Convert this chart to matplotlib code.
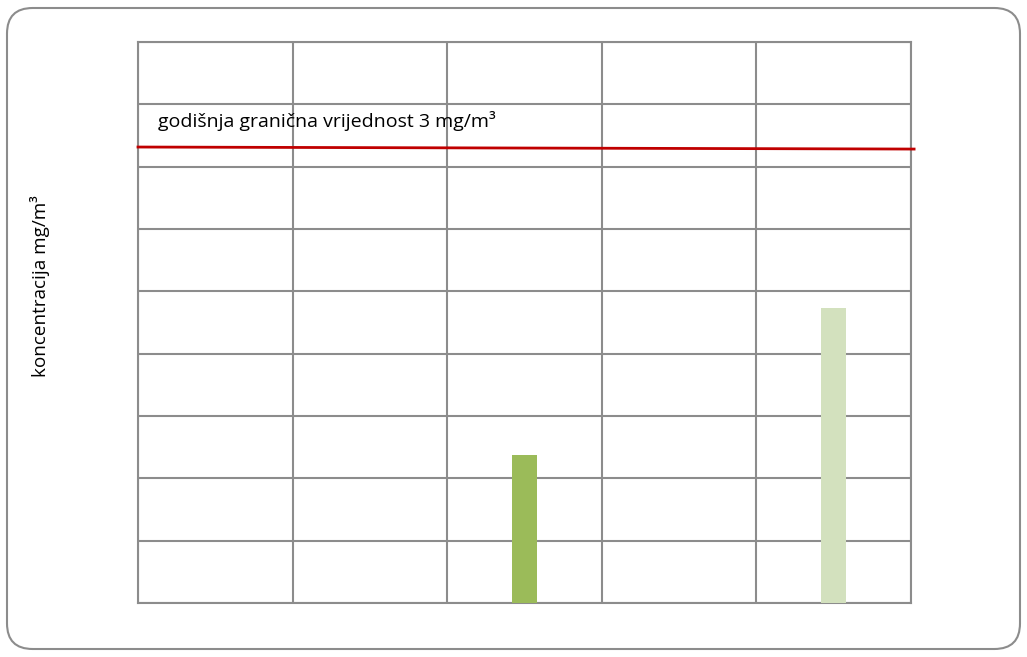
import numpy as np
import matplotlib
matplotlib.use('Agg')
from matplotlib import pyplot as plt
from matplotlib.patches import FancyBboxPatch

# Data (5 unlabeled categories)
categories = ['', '', '', '', '']
values = [0.0, 0.0, 0.95, 0.0, 1.89]
bar_colors = ['#9BBB59', '#9BBB59', '#9BBB59', '#D3E1BE', '#D3E1BE']
limit_y = [2.926, 2.913]   # red "limit" line, slightly sloping in the original
limit_label = 'godišnja granična vrijednost 3 mg/m³'
ylabel = 'koncentracija mg/m³'

W, H = 1027, 657
fig = plt.figure(figsize=(W / 100, H / 100), dpi=100, facecolor='white')

# rounded outer frame
frame = FancyBboxPatch((7 / W, 8 / H), 1013 / W, 641 / H,
                       boxstyle='round,pad=0,rounding_size=0.025',
                       transform=fig.transFigure, facecolor='none',
                       edgecolor='#8C8C8C', linewidth=1.5, mutation_aspect=W / H,
                       zorder=-1)
fig.patches.append(frame)

ax = fig.add_axes([138 / W, (H - 603) / H, 773 / W, 561 / H])
ax.set_facecolor('none')

x = np.arange(len(categories))
ax.bar(x, values, width=0.165, color=bar_colors, zorder=3)

ax.set_xlim(-0.5, len(categories) - 0.5)
ax.set_ylim(0, 3.6)
ax.set_yticks(np.arange(0, 3.61, 0.4))
ax.set_xticks(np.arange(-0.5, len(categories), 1.0))
ax.grid(True, color='#8C8C8C', linewidth=1.5, zorder=1)
ax.tick_params(length=0, labelbottom=False, labelleft=False)
for s in ax.spines.values():
    s.set_color('#8C8C8C')
    s.set_linewidth(1.5)

ax.plot([-0.5, 4.52], limit_y, color='#C00000', linewidth=2.0, zorder=4, clip_on=False)
ax.text(-0.37, 3.09, limit_label, fontsize=14.0, family='Open Sans',
        va='center', ha='left', zorder=5)

fig.text(40 / W, 1 - 286 / H, ylabel, rotation=90, fontsize=13.6,
         family='Open Sans', va='center', ha='center')

fig.savefig('out.png', dpi=100)
